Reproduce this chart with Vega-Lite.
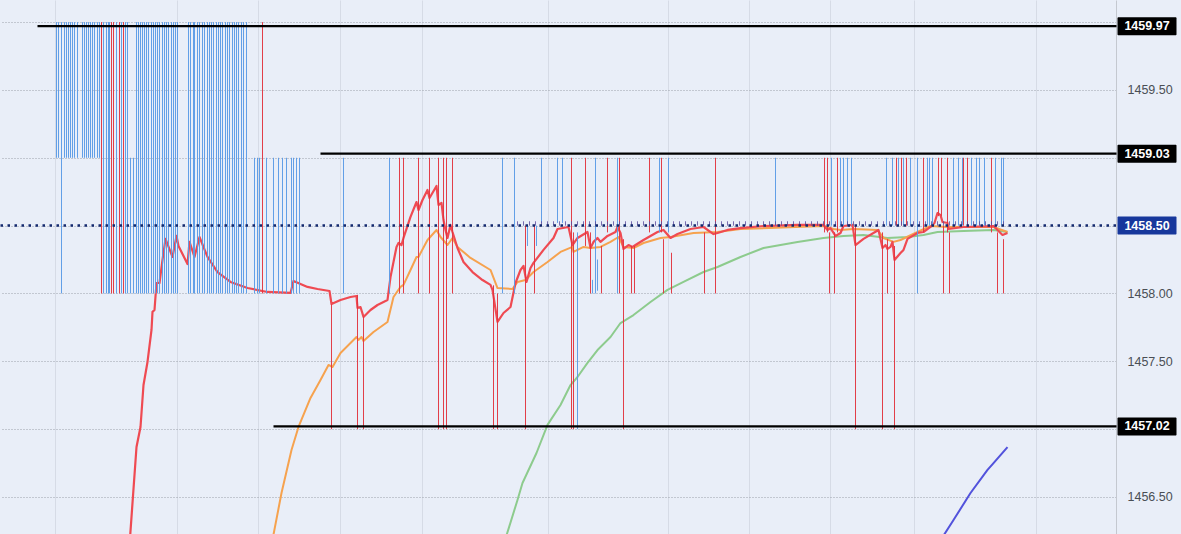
{
"$schema":"https://vega.github.io/schema/vega-lite/v6.json",
"width":1116,"height":534,
"autosize":{"type":"none"},
"padding":{"left":0,"top":0,"right":65,"bottom":0},
"background":"#e9eef8",
"config":{"view":{"stroke":null}},
"datasets":{
"red":[
{"t":129,"p":1456.146},{"t":136,"p":1456.868},{"t":140,"p":1457.016},{"t":143,"p":1457.325},{"t":147,"p":1457.495},{"t":151,"p":1457.731},{"t":152,"p":1457.864},{"t":154,"p":1457.878},{"t":156,"p":1458.077},{"t":159,"p":1458.077},{"t":162,"p":1458.247},{"t":165,"p":1458.402},{"t":172,"p":1458.269},{"t":176,"p":1458.424},{"t":178,"p":1458.35},{"t":187,"p":1458.217},{"t":189,"p":1458.38},{"t":194,"p":1458.269},{"t":199,"p":1458.416},{"t":207,"p":1458.269},{"t":217,"p":1458.158},{"t":230,"p":1458.085},{"t":247,"p":1458.04},{"t":267,"p":1458.011},{"t":290,"p":1458.004},{"t":293,"p":1458.092},{"t":307,"p":1458.048},{"t":317,"p":1458.033},{"t":329,"p":1458.018},{"t":331,"p":1457.922},{"t":340,"p":1457.952},{"t":350,"p":1457.974},{"t":356,"p":1457.981},{"t":357,"p":1457.893},{"t":360,"p":1457.9},{"t":363,"p":1457.827},{"t":370,"p":1457.878},{"t":377,"p":1457.915},{"t":387,"p":1457.952},{"t":390,"p":1458.121},{"t":396,"p":1458.343},{"t":398,"p":1458.372},{"t":401,"p":1458.357},{"t":403,"p":1458.409},{"t":410,"p":1458.564},{"t":416,"p":1458.674},{"t":418,"p":1458.615},{"t":422,"p":1458.689},{"t":427,"p":1458.763},{"t":429,"p":1458.704},{"t":436,"p":1458.792},{"t":438,"p":1458.652},{"t":441,"p":1458.667},{"t":443,"p":1458.541},{"t":445,"p":1458.468},{"t":447,"p":1458.409},{"t":450,"p":1458.505},{"t":452,"p":1458.453},{"t":457,"p":1458.335},{"t":463,"p":1458.232},{"t":472,"p":1458.158},{"t":482,"p":1458.099},{"t":490,"p":1458.063},{"t":492,"p":1458.026},{"t":497,"p":1457.79},{"t":503,"p":1457.856},{"t":510,"p":1457.9},{"t":515,"p":1458.077},{"t":520,"p":1458.173},{"t":523,"p":1458.203},{"t":526,"p":1458.085},{"t":530,"p":1458.188},{"t":533,"p":1458.225},{"t":543,"p":1458.321},{"t":553,"p":1458.409},{"t":557,"p":1458.475},{"t":568,"p":1458.49},{"t":572,"p":1458.357},{"t":577,"p":1458.409},{"t":587,"p":1458.453},{"t":590,"p":1458.335},{"t":593,"p":1458.38},{"t":597,"p":1458.409},{"t":600,"p":1458.38},{"t":607,"p":1458.424},{"t":615,"p":1458.453},{"t":617,"p":1458.49},{"t":620,"p":1458.446},{"t":623,"p":1458.328},{"t":628,"p":1458.357},{"t":632,"p":1458.343},{"t":635,"p":1458.357},{"t":643,"p":1458.394},{"t":657,"p":1458.453},{"t":663,"p":1458.468},{"t":670,"p":1458.409},{"t":677,"p":1458.438},{"t":690,"p":1458.475},{"t":703,"p":1458.49},{"t":713,"p":1458.438},{"t":717,"p":1458.446},{"t":727,"p":1458.468},{"t":740,"p":1458.482},{"t":763,"p":1458.497},{"t":797,"p":1458.505},{"t":823,"p":1458.505},{"t":827,"p":1458.468},{"t":830,"p":1458.482},{"t":835,"p":1458.424},{"t":840,"p":1458.446},{"t":843,"p":1458.497},{"t":852,"p":1458.505},{"t":855,"p":1458.357},{"t":863,"p":1458.402},{"t":878,"p":1458.468},{"t":882,"p":1458.335},{"t":885,"p":1458.357},{"t":887,"p":1458.328},{"t":890,"p":1458.343},{"t":892,"p":1458.38},{"t":894,"p":1458.247},{"t":900,"p":1458.298},{"t":903,"p":1458.321},{"t":907,"p":1458.402},{"t":917,"p":1458.446},{"t":923,"p":1458.453},{"t":930,"p":1458.49},{"t":934,"p":1458.519},{"t":937,"p":1458.593},{"t":940,"p":1458.578},{"t":942,"p":1458.527},{"t":947,"p":1458.519},{"t":948,"p":1458.475},{"t":963,"p":1458.49},{"t":993,"p":1458.497},{"t":997,"p":1458.468},{"t":1002,"p":1458.431},{"t":1007,"p":1458.446}],
"orange":[
{"t":271,"p":1456.146},{"t":281,"p":1456.529},{"t":291,"p":1456.846},{"t":298,"p":1457.016},{"t":310,"p":1457.23},{"t":320,"p":1457.362},{"t":328,"p":1457.473},{"t":332,"p":1457.458},{"t":340,"p":1457.561},{"t":350,"p":1457.635},{"t":356,"p":1457.679},{"t":358,"p":1457.657},{"t":361,"p":1457.679},{"t":363,"p":1457.65},{"t":373,"p":1457.716},{"t":387,"p":1457.79},{"t":393,"p":1457.974},{"t":400,"p":1458.048},{"t":403,"p":1458.063},{"t":410,"p":1458.173},{"t":416,"p":1458.269},{"t":418,"p":1458.269},{"t":427,"p":1458.394},{"t":436,"p":1458.468},{"t":440,"p":1458.416},{"t":447,"p":1458.357},{"t":452,"p":1458.409},{"t":457,"p":1458.343},{"t":470,"p":1458.262},{"t":490,"p":1458.173},{"t":497,"p":1458.04},{"t":512,"p":1458.033},{"t":517,"p":1458.085},{"t":525,"p":1458.099},{"t":533,"p":1458.158},{"t":547,"p":1458.232},{"t":560,"p":1458.306},{"t":572,"p":1458.343},{"t":573,"p":1458.306},{"t":583,"p":1458.343},{"t":590,"p":1458.335},{"t":600,"p":1458.343},{"t":610,"p":1458.38},{"t":618,"p":1458.416},{"t":623,"p":1458.343},{"t":633,"p":1458.335},{"t":643,"p":1458.372},{"t":660,"p":1458.409},{"t":670,"p":1458.416},{"t":693,"p":1458.446},{"t":717,"p":1458.453},{"t":740,"p":1458.475},{"t":823,"p":1458.497},{"t":833,"p":1458.475},{"t":840,"p":1458.468},{"t":853,"p":1458.475},{"t":877,"p":1458.468},{"t":883,"p":1458.409},{"t":893,"p":1458.38},{"t":900,"p":1458.394},{"t":917,"p":1458.453},{"t":930,"p":1458.497},{"t":947,"p":1458.49},{"t":993,"p":1458.49},{"t":1007,"p":1458.453}],
"green":[
{"t":503,"p":1456.146},{"t":517,"p":1456.478},{"t":522,"p":1456.603},{"t":536,"p":1456.824},{"t":547,"p":1457.031},{"t":560,"p":1457.178},{"t":570,"p":1457.325},{"t":577,"p":1457.384},{"t":587,"p":1457.488},{"t":597,"p":1457.583},{"t":610,"p":1457.679},{"t":620,"p":1457.782},{"t":633,"p":1457.841},{"t":650,"p":1457.937},{"t":667,"p":1458.026},{"t":683,"p":1458.085},{"t":703,"p":1458.158},{"t":717,"p":1458.195},{"t":740,"p":1458.269},{"t":763,"p":1458.335},{"t":780,"p":1458.357},{"t":797,"p":1458.38},{"t":823,"p":1458.409},{"t":843,"p":1458.424},{"t":863,"p":1458.431},{"t":887,"p":1458.409},{"t":907,"p":1458.416},{"t":923,"p":1458.431},{"t":937,"p":1458.453},{"t":963,"p":1458.46},{"t":993,"p":1458.468},{"t":1007,"p":1458.453}],
"violet":[{"t":937,"p":1456.146},{"t":953,"p":1456.33},{"t":970,"p":1456.529},{"t":987,"p":1456.699},{"t":993,"p":1456.75},{"t":1007,"p":1456.868}],
"buy":[
{"t":56,"p":1460,"q":1459},{"t":58,"p":1460,"q":1459},{"t":61,"p":1460,"q":1458},{"t":64,"p":1460,"q":1459},{"t":66,"p":1460,"q":1459},{"t":68,"p":1460,"q":1459},{"t":70,"p":1460,"q":1459},{"t":72,"p":1460,"q":1459},{"t":74,"p":1460,"q":1459},{"t":77,"p":1460,"q":1459},{"t":82,"p":1460,"q":1459},{"t":84,"p":1460,"q":1459},{"t":86,"p":1460,"q":1459},{"t":88,"p":1460,"q":1459},{"t":90,"p":1460,"q":1459},{"t":92,"p":1460,"q":1459},{"t":94,"p":1460,"q":1459},{"t":97,"p":1460,"q":1459},{"t":99,"p":1460,"q":1459},
{"t":103,"p":1460,"q":1458},{"t":106,"p":1460,"q":1458},{"t":108,"p":1460,"q":1458},{"t":109,"p":1460,"q":1458},{"t":116,"p":1460,"q":1458},{"t":121,"p":1460,"q":1458},{"t":125,"p":1460,"q":1458},{"t":127,"p":1460,"q":1458},{"t":130,"p":1459,"q":1458},{"t":133,"p":1459,"q":1458},{"t":136,"p":1460,"q":1458},{"t":138,"p":1460,"q":1458},{"t":140,"p":1460,"q":1458},{"t":142,"p":1460,"q":1458},{"t":144,"p":1460,"q":1458},{"t":146,"p":1460,"q":1458},{"t":148,"p":1460,"q":1458},{"t":151,"p":1460,"q":1458},{"t":153,"p":1460,"q":1458},{"t":155,"p":1460,"q":1458},{"t":157,"p":1460,"q":1458},{"t":159,"p":1460,"q":1458},{"t":162,"p":1460,"q":1458},{"t":164,"p":1460,"q":1458},{"t":166,"p":1460,"q":1458},{"t":168,"p":1460,"q":1458},{"t":171,"p":1460,"q":1458},{"t":173,"p":1460,"q":1458},{"t":175,"p":1460,"q":1458},{"t":177,"p":1460,"q":1458},{"t":188,"p":1460,"q":1458},{"t":190,"p":1460,"q":1458},{"t":193,"p":1460,"q":1458},{"t":194,"p":1460,"q":1458},{"t":197,"p":1460,"q":1458},{"t":199,"p":1460,"q":1458},{"t":202,"p":1460,"q":1458},{"t":204,"p":1460,"q":1458},{"t":207,"p":1460,"q":1458},{"t":209,"p":1460,"q":1458},{"t":211,"p":1460,"q":1458},{"t":213,"p":1460,"q":1458},{"t":216,"p":1460,"q":1458},{"t":218,"p":1460,"q":1458},{"t":220,"p":1460,"q":1458},{"t":222,"p":1460,"q":1458},{"t":225,"p":1460,"q":1458},{"t":227,"p":1460,"q":1458},{"t":229,"p":1460,"q":1458},{"t":232,"p":1460,"q":1458},{"t":234,"p":1460,"q":1458},{"t":236,"p":1460,"q":1458},{"t":238,"p":1460,"q":1458},{"t":241,"p":1460,"q":1458},{"t":243,"p":1460,"q":1458},{"t":246,"p":1460,"q":1458},
{"t":254,"p":1459,"q":1458},{"t":257,"p":1459,"q":1458},{"t":259,"p":1459,"q":1458},{"t":266,"p":1459,"q":1458},{"t":273,"p":1459,"q":1458},{"t":278,"p":1459,"q":1458},{"t":282,"p":1459,"q":1458},{"t":286,"p":1459,"q":1458},{"t":291,"p":1459,"q":1458},{"t":293,"p":1459,"q":1458},{"t":296,"p":1459,"q":1458},{"t":299,"p":1459,"q":1458},{"t":343,"p":1459,"q":1458},{"t":389,"p":1459,"q":1458},{"t":502,"p":1459,"q":1458},{"t":514,"p":1459,"q":1458},{"t":595,"p":1459,"q":1458},{"t":617,"p":1459,"q":1458},{"t":917,"p":1459,"q":1458},
{"t":541,"p":1459,"q":1458.52},{"t":557,"p":1459,"q":1458.52},{"t":562,"p":1459,"q":1458.52},{"t":527,"p":1458.5,"q":1458.35},{"t":536,"p":1458.5,"q":1458.35},{"t":577,"p":1458.45,"q":1457},{"t":592,"p":1458.1,"q":1458},{"t":597,"p":1458.25,"q":1458.02},{"t":659,"p":1459,"q":1458.45},{"t":668,"p":1459,"q":1458.45},
{"t":775,"p":1459,"q":1458.5},{"t":831,"p":1459,"q":1458.5},{"t":840,"p":1459,"q":1458.5},{"t":843,"p":1459,"q":1458.5},{"t":847,"p":1459,"q":1458.5},{"t":851,"p":1459,"q":1458.5},{"t":886,"p":1459,"q":1458.5},{"t":892,"p":1459,"q":1458.5},{"t":898,"p":1459,"q":1458.5},{"t":903,"p":1459,"q":1458.5},{"t":910,"p":1459,"q":1458.5},{"t":927,"p":1459,"q":1458.5},{"t":929,"p":1459,"q":1458.5},{"t":932,"p":1459,"q":1458.5},{"t":953,"p":1459,"q":1458.5},{"t":958,"p":1459,"q":1458.5},{"t":962,"p":1459,"q":1458.5},{"t":971,"p":1459,"q":1458.5},{"t":976,"p":1459,"q":1458.5},{"t":979,"p":1459,"q":1458.5},{"t":984,"p":1459,"q":1458.5},{"t":995,"p":1459,"q":1458.5},{"t":1001,"p":1459,"q":1458.5},{"t":1003,"p":1459,"q":1458.5}],
"sell":[
{"t":101,"p":1460,"q":1458},{"t":111,"p":1460,"q":1458},{"t":113,"p":1460,"q":1458},{"t":119,"p":1460,"q":1458},{"t":123,"p":1460,"q":1458},{"t":262,"p":1460,"q":1458},
{"t":399,"p":1459,"q":1458},{"t":403,"p":1459,"q":1458},{"t":418,"p":1459,"q":1458},{"t":429,"p":1459,"q":1458},{"t":452,"p":1459,"q":1458},{"t":619,"p":1459,"q":1458},{"t":715,"p":1459,"q":1458},
{"t":438,"p":1459,"q":1457},{"t":443,"p":1459,"q":1457},{"t":446,"p":1459,"q":1457},{"t":571,"p":1459,"q":1457},
{"t":331,"p":1457.92,"q":1457},{"t":357,"p":1457.99,"q":1457},{"t":363,"p":1457.83,"q":1457},{"t":493,"p":1458.06,"q":1457},{"t":497,"p":1458,"q":1457},{"t":525,"p":1458.5,"q":1457},{"t":573,"p":1458.45,"q":1457},{"t":623,"p":1458.4,"q":1457},{"t":855,"p":1458.5,"q":1457},{"t":882,"p":1458.45,"q":1457},{"t":894,"p":1458.35,"q":1457},
{"t":534,"p":1458.5,"q":1458},{"t":585,"p":1459,"q":1458.35},{"t":590,"p":1458.45,"q":1458},{"t":704,"p":1458.45,"q":1458},{"t":829,"p":1458.45,"q":1458},{"t":834,"p":1458.45,"q":1458},{"t":949,"p":1458.45,"q":1458},{"t":997,"p":1458.45,"q":1458},
{"t":601,"p":1458.35,"q":1458},{"t":631,"p":1458.35,"q":1458},{"t":634,"p":1458.35,"q":1458},
{"t":607,"p":1459,"q":1458.45},{"t":649,"p":1459,"q":1458.45},{"t":661,"p":1459,"q":1458.45},{"t":824,"p":1459,"q":1458.45},{"t":827,"p":1459,"q":1458.45},{"t":837,"p":1459,"q":1458.45},{"t":923,"p":1459,"q":1458.45},{"t":947,"p":1459,"q":1458.45},{"t":991,"p":1459,"q":1458.45},
{"t":663,"p":1458.4,"q":1458},{"t":887,"p":1458.4,"q":1458},{"t":1003,"p":1458.4,"q":1458},{"t":671,"p":1458.3,"q":1458},
{"t":896,"p":1459,"q":1458.5},{"t":901,"p":1459,"q":1458.5},{"t":906,"p":1459,"q":1458.5},{"t":963,"p":1459,"q":1458.5},{"t":967,"p":1459,"q":1458.5},{"t":938,"p":1459,"q":1458.57},{"t":941,"p":1459,"q":1458.57},{"t":943,"p":1458.5,"q":1458}],
"ticks":[{"t":517},{"t":523},{"t":529},{"t":535},{"t":541},{"t":547},{"t":553},{"t":559},{"t":565},{"t":571},{"t":577},{"t":583},{"t":589},{"t":595},{"t":601},{"t":607},{"t":613},{"t":619},{"t":625},{"t":631},{"t":637},{"t":643},{"t":649},{"t":655},{"t":661},{"t":667},{"t":673},{"t":679},{"t":685},{"t":691},{"t":697},{"t":703},{"t":709},{"t":715},{"t":721},{"t":727},{"t":733},{"t":739},{"t":745},{"t":751},{"t":757},{"t":763},{"t":769},{"t":775},{"t":781},{"t":787},{"t":793},{"t":799},{"t":805},{"t":811},{"t":817},{"t":823},{"t":829},{"t":835},{"t":841},{"t":847},{"t":853},{"t":859},{"t":865},{"t":871},{"t":877},{"t":883},{"t":889},{"t":895},{"t":901},{"t":907},{"t":913},{"t":919},{"t":925},{"t":931},{"t":937},{"t":943},{"t":949},{"t":955},{"t":961},{"t":967},{"t":973},{"t":979},{"t":985},{"t":991},{"t":997},{"t":1003}],
"solid":[{"p":1459.97,"t":37,"t2":1116},{"p":1459.03,"t":320,"t2":1116},{"p":1457.02,"t":273,"t2":1116}],
"dot":[{"p":1458.5,"t":0,"t2":1116}],
"tags":[{"p":1459.97,"label":"1459.97","c":"k"},{"p":1459.03,"label":"1459.03","c":"k"},{"p":1458.5,"label":"1458.50","c":"b"},{"p":1457.02,"label":"1457.02","c":"k"}]
},
"layer":[
{"data":{"name":"green"},"mark":{"type":"line","clip":true,"strokeWidth":2,"color":"#8dcb8d","strokeJoin":"round"},
 "encoding":{"x":{"field":"t","type":"quantitative","scale":{"domain":[-0.5,1115.5],"nice":false,"zero":false,"padding":0},"axis":{"values":[54,176,257,339,421,547,667,748,829,913,1035],"labels":false,"ticks":false,"domain":false,"grid":true,"gridColor":"#d6dbe6","gridWidth":1,"title":null}},
  "y":{"field":"p","type":"quantitative","scale":{"domain":[1456.227,1460.163],"nice":false,"zero":false,"padding":0},"axis":{"orient":"right","values":[1456.5,1457,1457.5,1458,1458.5,1459,1459.5,1460],"format":".2f","labelExpr":"datum.value==1460||datum.value==1459||datum.value==1458.5||datum.value==1457?'':datum.label","labelFont":"Liberation Sans","labelFontSize":12.5,"labelColor":"#4a4e55","labelPadding":11,"ticks":false,"domain":true,"domainColor":"#c4c8d0","domainWidth":1,"grid":true,"gridColor":"#9aa0ab","gridDash":[1,2],"gridWidth":1,"title":null}}}},
{"data":{"name":"orange"},"mark":{"type":"line","clip":true,"strokeWidth":2,"color":"#f6a24e","strokeJoin":"round"},
 "encoding":{"x":{"field":"t","type":"quantitative","scale":{"domain":[-0.5,1115.5],"nice":false,"zero":false,"padding":0},"axis":{"values":[54,176,257,339,421,547,667,748,829,913,1035],"labels":false,"ticks":false,"domain":false,"grid":true,"gridColor":"#d6dbe6","gridWidth":1,"title":null}},
  "y":{"field":"p","type":"quantitative","scale":{"domain":[1456.227,1460.163],"nice":false,"zero":false,"padding":0},"axis":{"orient":"right","values":[1456.5,1457,1457.5,1458,1458.5,1459,1459.5,1460],"format":".2f","labelExpr":"datum.value==1460||datum.value==1459||datum.value==1458.5||datum.value==1457?'':datum.label","labelFont":"Liberation Sans","labelFontSize":12.5,"labelColor":"#4a4e55","labelPadding":11,"ticks":false,"domain":true,"domainColor":"#c4c8d0","domainWidth":1,"grid":true,"gridColor":"#9aa0ab","gridDash":[1,2],"gridWidth":1,"title":null}}}},
{"data":{"name":"violet"},"mark":{"type":"line","clip":true,"strokeWidth":2,"color":"#5252dc","strokeJoin":"round"},
 "encoding":{"x":{"field":"t","type":"quantitative","scale":{"domain":[-0.5,1115.5],"nice":false,"zero":false,"padding":0},"axis":{"values":[54,176,257,339,421,547,667,748,829,913,1035],"labels":false,"ticks":false,"domain":false,"grid":true,"gridColor":"#d6dbe6","gridWidth":1,"title":null}},
  "y":{"field":"p","type":"quantitative","scale":{"domain":[1456.227,1460.163],"nice":false,"zero":false,"padding":0},"axis":{"orient":"right","values":[1456.5,1457,1457.5,1458,1458.5,1459,1459.5,1460],"format":".2f","labelExpr":"datum.value==1460||datum.value==1459||datum.value==1458.5||datum.value==1457?'':datum.label","labelFont":"Liberation Sans","labelFontSize":12.5,"labelColor":"#4a4e55","labelPadding":11,"ticks":false,"domain":true,"domainColor":"#c4c8d0","domainWidth":1,"grid":true,"gridColor":"#9aa0ab","gridDash":[1,2],"gridWidth":1,"title":null}}}},
{"data":{"name":"red"},"mark":{"type":"line","clip":true,"strokeWidth":2.2,"color":"#ef4a52","strokeJoin":"round"},
 "encoding":{"x":{"field":"t","type":"quantitative","scale":{"domain":[-0.5,1115.5],"nice":false,"zero":false,"padding":0},"axis":{"values":[54,176,257,339,421,547,667,748,829,913,1035],"labels":false,"ticks":false,"domain":false,"grid":true,"gridColor":"#d6dbe6","gridWidth":1,"title":null}},
  "y":{"field":"p","type":"quantitative","scale":{"domain":[1456.227,1460.163],"nice":false,"zero":false,"padding":0},"axis":{"orient":"right","values":[1456.5,1457,1457.5,1458,1458.5,1459,1459.5,1460],"format":".2f","labelExpr":"datum.value==1460||datum.value==1459||datum.value==1458.5||datum.value==1457?'':datum.label","labelFont":"Liberation Sans","labelFontSize":12.5,"labelColor":"#4a4e55","labelPadding":11,"ticks":false,"domain":true,"domainColor":"#c4c8d0","domainWidth":1,"grid":true,"gridColor":"#9aa0ab","gridDash":[1,2],"gridWidth":1,"title":null}}}},
{"data":{"name":"buy"},"mark":{"type":"rule","strokeWidth":1,"color":"#5b9ae6","opacity":0.95},
 "encoding":{"x":{"field":"t","type":"quantitative","scale":{"domain":[-0.5,1115.5],"nice":false,"zero":false,"padding":0},"axis":{"values":[54,176,257,339,421,547,667,748,829,913,1035],"labels":false,"ticks":false,"domain":false,"grid":true,"gridColor":"#d6dbe6","gridWidth":1,"title":null}},
  "y":{"field":"p","type":"quantitative","scale":{"domain":[1456.227,1460.163],"nice":false,"zero":false,"padding":0},"axis":{"orient":"right","values":[1456.5,1457,1457.5,1458,1458.5,1459,1459.5,1460],"format":".2f","labelExpr":"datum.value==1460||datum.value==1459||datum.value==1458.5||datum.value==1457?'':datum.label","labelFont":"Liberation Sans","labelFontSize":12.5,"labelColor":"#4a4e55","labelPadding":11,"ticks":false,"domain":true,"domainColor":"#c4c8d0","domainWidth":1,"grid":true,"gridColor":"#9aa0ab","gridDash":[1,2],"gridWidth":1,"title":null}},
  "y2":{"field":"q"}}},
{"data":{"name":"sell"},"mark":{"type":"rule","strokeWidth":1,"color":"#e2343f","opacity":0.95},
 "encoding":{"x":{"field":"t","type":"quantitative","scale":{"domain":[-0.5,1115.5],"nice":false,"zero":false,"padding":0},"axis":{"values":[54,176,257,339,421,547,667,748,829,913,1035],"labels":false,"ticks":false,"domain":false,"grid":true,"gridColor":"#d6dbe6","gridWidth":1,"title":null}},
  "y":{"field":"p","type":"quantitative","scale":{"domain":[1456.227,1460.163],"nice":false,"zero":false,"padding":0},"axis":{"orient":"right","values":[1456.5,1457,1457.5,1458,1458.5,1459,1459.5,1460],"format":".2f","labelExpr":"datum.value==1460||datum.value==1459||datum.value==1458.5||datum.value==1457?'':datum.label","labelFont":"Liberation Sans","labelFontSize":12.5,"labelColor":"#4a4e55","labelPadding":11,"ticks":false,"domain":true,"domainColor":"#c4c8d0","domainWidth":1,"grid":true,"gridColor":"#9aa0ab","gridDash":[1,2],"gridWidth":1,"title":null}},
  "y2":{"field":"q"}}},
{"data":{"name":"ticks"},"mark":{"type":"rule","strokeWidth":1,"color":"#5a4a9c","opacity":0.8},
 "encoding":{"x":{"field":"t","type":"quantitative","scale":{"domain":[-0.5,1115.5],"nice":false,"zero":false,"padding":0},"axis":{"values":[54,176,257,339,421,547,667,748,829,913,1035],"labels":false,"ticks":false,"domain":false,"grid":true,"gridColor":"#d6dbe6","gridWidth":1,"title":null}},
  "y":{"datum":1458.5,"type":"quantitative","scale":{"domain":[1456.227,1460.163],"nice":false,"zero":false,"padding":0},"axis":{"orient":"right","values":[1456.5,1457,1457.5,1458,1458.5,1459,1459.5,1460],"format":".2f","labelExpr":"datum.value==1460||datum.value==1459||datum.value==1458.5||datum.value==1457?'':datum.label","labelFont":"Liberation Sans","labelFontSize":12.5,"labelColor":"#4a4e55","labelPadding":11,"ticks":false,"domain":true,"domainColor":"#c4c8d0","domainWidth":1,"grid":true,"gridColor":"#9aa0ab","gridDash":[1,2],"gridWidth":1,"title":null}},
  "y2":{"datum":1458.532}}},
{"data":{"name":"dot"},"mark":{"type":"rule","strokeWidth":2.5,"color":"#13296e","strokeDash":[2.5,4.5]},
 "encoding":{"x":{"field":"t","type":"quantitative","scale":{"domain":[-0.5,1115.5],"nice":false,"zero":false,"padding":0},"axis":{"values":[54,176,257,339,421,547,667,748,829,913,1035],"labels":false,"ticks":false,"domain":false,"grid":true,"gridColor":"#d6dbe6","gridWidth":1,"title":null}},"x2":{"field":"t2"},
  "y":{"field":"p","type":"quantitative","scale":{"domain":[1456.227,1460.163],"nice":false,"zero":false,"padding":0},"axis":{"orient":"right","values":[1456.5,1457,1457.5,1458,1458.5,1459,1459.5,1460],"format":".2f","labelExpr":"datum.value==1460||datum.value==1459||datum.value==1458.5||datum.value==1457?'':datum.label","labelFont":"Liberation Sans","labelFontSize":12.5,"labelColor":"#4a4e55","labelPadding":11,"ticks":false,"domain":true,"domainColor":"#c4c8d0","domainWidth":1,"grid":true,"gridColor":"#9aa0ab","gridDash":[1,2],"gridWidth":1,"title":null}}}},
{"data":{"name":"solid"},"mark":{"type":"rule","strokeWidth":2.2,"color":"#000000"},
 "encoding":{"x":{"field":"t","type":"quantitative","scale":{"domain":[-0.5,1115.5],"nice":false,"zero":false,"padding":0},"axis":{"values":[54,176,257,339,421,547,667,748,829,913,1035],"labels":false,"ticks":false,"domain":false,"grid":true,"gridColor":"#d6dbe6","gridWidth":1,"title":null}},"x2":{"field":"t2"},
  "y":{"field":"p","type":"quantitative","scale":{"domain":[1456.227,1460.163],"nice":false,"zero":false,"padding":0},"axis":{"orient":"right","values":[1456.5,1457,1457.5,1458,1458.5,1459,1459.5,1460],"format":".2f","labelExpr":"datum.value==1460||datum.value==1459||datum.value==1458.5||datum.value==1457?'':datum.label","labelFont":"Liberation Sans","labelFontSize":12.5,"labelColor":"#4a4e55","labelPadding":11,"ticks":false,"domain":true,"domainColor":"#c4c8d0","domainWidth":1,"grid":true,"gridColor":"#9aa0ab","gridDash":[1,2],"gridWidth":1,"title":null}}}},
{"data":{"name":"tags"},"mark":{"type":"bar","size":18,"orient":"horizontal","cornerRadius":1},
 "encoding":{"x":{"datum":1117,"type":"quantitative","scale":{"domain":[-0.5,1115.5],"nice":false,"zero":false,"padding":0},"axis":{"values":[54,176,257,339,421,547,667,748,829,913,1035],"labels":false,"ticks":false,"domain":false,"grid":true,"gridColor":"#d6dbe6","gridWidth":1,"title":null}},"x2":{"datum":1176},
  "y":{"field":"p","type":"quantitative","scale":{"domain":[1456.227,1460.163],"nice":false,"zero":false,"padding":0},"axis":{"orient":"right","values":[1456.5,1457,1457.5,1458,1458.5,1459,1459.5,1460],"format":".2f","labelExpr":"datum.value==1460||datum.value==1459||datum.value==1458.5||datum.value==1457?'':datum.label","labelFont":"Liberation Sans","labelFontSize":12.5,"labelColor":"#4a4e55","labelPadding":11,"ticks":false,"domain":true,"domainColor":"#c4c8d0","domainWidth":1,"grid":true,"gridColor":"#9aa0ab","gridDash":[1,2],"gridWidth":1,"title":null}},
  "color":{"field":"c","type":"nominal","scale":{"domain":["k","b"],"range":["#000000","#17379c"]},"legend":null}}},
{"data":{"name":"tags"},"mark":{"type":"text","color":"#ffffff","font":"Liberation Sans","fontSize":12.5,"fontWeight":"bold","align":"center","baseline":"middle"},
 "encoding":{"x":{"datum":1146.5,"type":"quantitative","scale":{"domain":[-0.5,1115.5],"nice":false,"zero":false,"padding":0},"axis":{"values":[54,176,257,339,421,547,667,748,829,913,1035],"labels":false,"ticks":false,"domain":false,"grid":true,"gridColor":"#d6dbe6","gridWidth":1,"title":null}},
  "y":{"field":"p","type":"quantitative","scale":{"domain":[1456.227,1460.163],"nice":false,"zero":false,"padding":0},"axis":{"orient":"right","values":[1456.5,1457,1457.5,1458,1458.5,1459,1459.5,1460],"format":".2f","labelExpr":"datum.value==1460||datum.value==1459||datum.value==1458.5||datum.value==1457?'':datum.label","labelFont":"Liberation Sans","labelFontSize":12.5,"labelColor":"#4a4e55","labelPadding":11,"ticks":false,"domain":true,"domainColor":"#c4c8d0","domainWidth":1,"grid":true,"gridColor":"#9aa0ab","gridDash":[1,2],"gridWidth":1,"title":null}},
  "text":{"field":"label"}}}
]
}
